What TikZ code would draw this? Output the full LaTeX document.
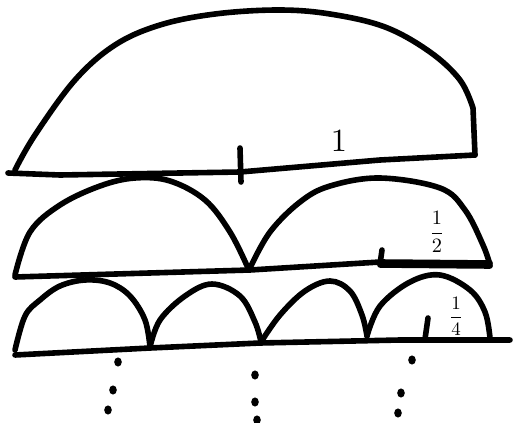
\documentclass[tikz,border=0pt]{standalone}
\usepackage{graphicx}
\usetikzlibrary{shapes.geometric}
\begin{document}
\begin{tikzpicture}[x=0.05cm, y=-0.05cm, line width=2.8mm, line cap=round, line join=round]
  \tikzset{
    arcline/.style={line width=2.8mm},
    dotmark/.style={ellipse, fill=black, inner sep=0pt, minimum width=3.8mm, minimum height=4.6mm},
    lbl/.style={inner sep=0pt}
  }
  \useasboundingbox (0,0) rectangle (514,422);
  % row 1: whole
  \draw[arcline] (8,173) -- (60,175) -- (240,172) -- (380,160) -- (475,155);
  \draw[arcline] plot[smooth, tension=0.6] coordinates {(15,170) (35,135) (75,80) (115,45) (160,25) (215,14) (278,10) (330,14) (385,27) (430,52) (460,80) (473,108)} -- (475,155);
  \draw[arcline] (240,148) -- (241,182);
  \node[lbl] (one) at (339,141) {\scalebox{4.6}{$1$}};
  % row 2: halves
  \draw[arcline] (15,277) -- (250,270) -- (380,262) -- (490,263);
  \draw[arcline] (380,265) -- (490,266);
  \draw[arcline] plot[smooth, tension=0.6] coordinates {(15,275) (30,232) (60,205) (100,186) (135,178) (170,181) (205,200) (230,232) (248,268)};
  \draw[arcline] plot[smooth, tension=0.6] coordinates {(250,268) (270,232) (300,202) (330,186) (380,178) (440,188) (465,210) (483,245) (490,265)};
  \draw[arcline] (382,250) -- (380,264);
  \node[lbl] (half) at (437,232) {\scalebox{2.9}{$\displaystyle\frac{1}{2}$}};
  % row 3: quarters
  \draw[arcline] (15,355) -- (150,348) -- (260,343) -- (400,340) -- (510,340);
  \draw[arcline] plot[smooth, tension=0.6] coordinates {(15,350) (25,316) (40,300) (60,286) (85,280) (110,283) (130,296) (145,320) (150,347)};
  \draw[arcline] plot[smooth, tension=0.6] coordinates {(150,347) (160,320) (185,296) (212,284) (240,296) (255,322) (261,342)};
  \draw[arcline] plot[smooth, tension=0.6] coordinates {(261,342) (280,315) (305,291) (330,281) (350,291) (362,315) (367,336)};
  \draw[arcline] plot[smooth, tension=0.6] coordinates {(367,336) (380,306) (410,282) (440,275) (470,290) (485,312) (490,338)};
  \draw[arcline] (428,318) -- (425,339);
  \node[lbl] (quarter) at (456,316) {\scalebox{2.7}{$\displaystyle\frac{1}{4}$}};
  % dots below
  \foreach \name/\px/\py in {a1/118/362, a2/113/390, a3/108/410,
                            b1/255/375, b2/255/402, b3/257/420,
                            c1/412/360, c2/401/393, c3/398/413}
    \node[dotmark] (dot\name) at (\px,\py) {};
\end{tikzpicture}
\end{document}
